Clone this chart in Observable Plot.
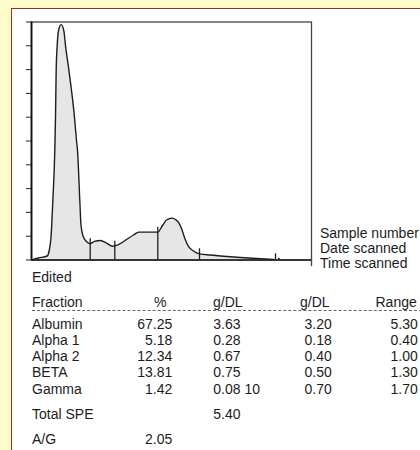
<!DOCTYPE html>
<html><head><meta charset="utf-8">
<script src="https://cdn.jsdelivr.net/npm/d3@7"></script>
<script src="https://cdn.jsdelivr.net/npm/@observablehq/plot@0.6"></script>
<style>
html,body{margin:0;padding:0;}
body{width:420px;height:450px;background:#fdfcca;position:relative;overflow:hidden;font-family:"Liberation Sans",Arial,sans-serif;color:#1c1c1c;}
#panel{position:absolute;left:11px;top:8px;width:420px;height:450px;background:#fff;border-left:1px solid #a3262d;border-top:1px solid #a3262d;}
#chart{position:absolute;left:0;top:0;}
.t{position:absolute;font-size:14px;line-height:16px;white-space:nowrap;}
.r{text-align:right;}
#dash{position:absolute;left:32px;top:310px;width:390px;height:0;border-top:1.3px dashed #666;}
</style></head><body>
<div id="panel"></div>
<div id="chart"></div>
<div id="dash"></div>
<div id="texts"></div>
<script>
// densitometry trace: mobility position (0-280) and relative absorbance (0-100)
const tracePos = [0,7,15.7,17.5,19.7,21.3,23.3,24,24.7,25.7,27,29.7,32.3,34,37.3,43,45,46,48.3,49.5,51.7,55.7,58.7,63,69,75,81,87,95,102,107.3,126.3,131,135,140.7,144,147,150,153,157,162,168,179,192,209,229,242.3];
const traceVal = [0,0.84,1.68,3.57,10.7,24.6,46.0,59.9,80.0,90.1,96.4,98.9,96.4,90.1,80.0,59.9,50.2,46.0,25.0,14.5,9.9,7.5,6.9,7.8,8.2,7.1,5.8,6.5,8.6,10.5,11.7,11.7,14.5,16.8,17.6,17.0,15.8,13.2,9.5,5.7,3.8,2.6,2.1,1.6,1.05,0.5,0.21];
// fraction dividers
const dividerPos = [58.7,83.3,126.3,168,244];
const dividerTop = [8.9,7.9,13.8,4.7,2.6];
const markerPos = [247.3];
const markerVal = [0.5];
const yTicks = [0,10,20,30,40,50,60,70,80,90,100];

// report table
const headers = ["Fraction","%","g/DL","g/DL","Range"];
const fractions = ["Albumin","Alpha 1","Alpha 2","BETA","Gamma"];
const percents = ["67.25","5.18","12.34","13.81","1.42"];
const gdl = ["3.63","0.28","0.67","0.75","0.08 10"];
const refLow = ["3.20","0.18","0.40","0.50","0.70"];
const refHigh = ["5.30","0.40","1.00","1.30","1.70"];
const sampleInfo = ["Sample number","Date scanned","Time scanned"];
const editedLabel = "Edited";
const totalLabel = "Total SPE", totalSPE = "5.40";
const agLabel = "A/G", agRatio = "2.05";

const curve = tracePos.map((x,i)=>({x, v: traceVal[i]}));
const dividers = dividerPos.map((x,i)=>({x, top: dividerTop[i]}));
const marker = markerPos.map((x,i)=>({x, v: markerVal[i]}));

const chart = Plot.plot({
  width: 420, height: 280,
  marginLeft: 31, marginRight: 109, marginTop: 21.5, marginBottom: 20.5,
  x: {domain: [0, 280], axis: null},
  y: {domain: [0, 100], axis: null},
  style: {background: "transparent", overflow: "visible"},
  marks: [
    Plot.areaY(curve, {x: "x", y: "v", fill: "#e6e6e6", curve: "monotone-x"}),
    Plot.lineY(curve, {x: "x", y: "v", stroke: "#1e1e1e", strokeWidth: 1.4, curve: "monotone-x"}),
    Plot.ruleX(dividers, {x: "x", y1: 0, y2: "top", stroke: "#1e1e1e", strokeWidth: 1.3}),
    Plot.dot(marker, {x: "x", y: "v", r: 1, fill: "#1e1e1e", stroke: null}),
    Plot.frame({stroke: "#444", strokeWidth: 1.3}),
    Plot.ruleX([280], {y1: 0, y2: -2.8, stroke: "#444", strokeWidth: 1.3}),
    Plot.ruleY([0], {stroke: "#1e1e1e", strokeWidth: 1.5}),
    Plot.ruleX([0], {stroke: "#111", strokeWidth: 1.8}),
    Plot.axisY(yTicks, {tickSize: 5, tickFormat: () => "", label: null, stroke: "#222"})
  ]
});
document.getElementById("chart").appendChild(chart);

const T = document.getElementById("texts");
function put(txt, x, cy, align){
  const d = document.createElement("div");
  d.className = "t";
  d.textContent = txt;
  d.style.top = (cy - 7.6) + "px";
  if (align === "right") { d.style.right = (420 - x) + "px"; d.style.textAlign = "right"; }
  else d.style.left = x + "px";
  T.appendChild(d);
}
sampleInfo.forEach((s,i)=>put(s, 320, 233 + i*15));
put(editedLabel, 32, 276.7);
const hx = [32,154,213,300,375.5];
headers.forEach((h,i)=>put(h, hx[i], 301.7));
fractions.forEach((f,i)=>{
  const cy = 323.3 + i*16.25;
  put(f, 32, cy);
  put(percents[i], 172.3, cy, "right");
  put(gdl[i], 213.3, cy);
  put(refLow[i], 331.7, cy, "right");
  put(refHigh[i], 417.7, cy, "right");
});
put(totalLabel, 32, 413.3);
put(totalSPE, 213.3, 413.3);
put(agLabel, 32, 438.3);
put(agRatio, 172.3, 438.3, "right");
</script>
</body></html>
